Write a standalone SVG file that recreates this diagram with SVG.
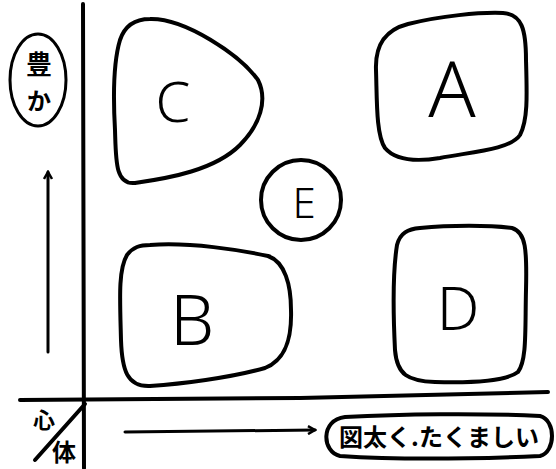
<svg xmlns="http://www.w3.org/2000/svg" width="556" height="469" viewBox="0 0 556 469">
<style>
.sh{fill:none;stroke:#000;stroke-width:4;stroke-linejoin:round;stroke-linecap:round}
.ln{fill:none;stroke:#000;stroke-width:4;stroke-linecap:round}
.lt{font-family:"Noto Sans","Liberation Sans",sans-serif;font-weight:300;fill:#000;text-anchor:middle}
.jp{font-family:"Noto Sans CJK JP",sans-serif;fill:#000;text-anchor:middle;font-weight:bold}
</style>
<defs>
<marker id="ah" markerWidth="10" markerHeight="10" refX="8" refY="5" orient="auto" markerUnits="userSpaceOnUse">
<path d="M1,1 L8,5 L1,9" fill="none" stroke="#000" stroke-width="2.5"/>
</marker>
</defs>
<rect width="556" height="469" fill="#fff"/>
<g id="axes">
<path class="ln" d="M83,4 L84,468"/>
<path class="ln" d="M20,400 L300,398 L548,392"/>
<path class="ln" d="M85,404 L35,460"/>
<path class="ln" d="M48,352 L48,172" style="stroke-width:3" marker-end="url(#ah)"/>
<path class="ln" d="M125,432 L315,430" style="stroke-width:3" marker-end="url(#ah)"/>
</g>
<g id="label-yutaka">
<ellipse class="sh" cx="38" cy="80" rx="28" ry="46" style="stroke-width:3"/>
<text class="jp" x="39" y="74" font-size="26">豊</text>
<text class="jp" x="39" y="110" font-size="24">か</text>
</g>
<g id="label-corner">
<text class="jp" x="44" y="428" font-size="22" font-weight="normal">心</text>
<text class="jp" x="64" y="461" font-size="24">体</text>
</g>
<g id="label-x">
<path class="sh" d="M345,417 C400,414 480,413 540,416 C556,420 556,452 540,456 C470,459 400,460 340,456 C322,452 320,420 345,417 Z"/>
<text class="jp" x="439" y="446" font-size="24">図太く.たくましい</text>
</g>
<g id="node-C">
<path class="sh" d="M150,19 C185,18 240,55 258,80 C268,100 260,125 240,145 C215,170 170,178 135,183 C115,185 116,160 115,130 C113,95 114,60 120,40 C125,25 135,19 150,19 Z"/>
<text class="lt" x="173" y="122" font-size="56">C</text>
</g>
<g id="node-A">
<path class="sh" d="M408,24 C440,16 480,12 503,13 C522,14 526,30 526,60 C527,95 528,120 520,135 C510,150 470,152 440,158 C415,162 395,160 385,148 C376,135 377,100 376,70 C375,45 385,30 408,24 Z"/>
<text class="lt" x="452" y="117" font-size="78">A</text>
</g>
<g id="node-E">
<ellipse class="sh" cx="301" cy="200" rx="40" ry="40"/>
<text class="lt" x="304" y="218" font-size="42">E</text>
</g>
<g id="node-B">
<path class="sh" d="M150,245 C190,242 240,250 268,256 C285,262 291,285 291,310 C292,340 285,360 265,368 C230,378 180,384 150,386 C127,387 122,370 121,340 C120,300 118,270 127,255 C133,247 140,245 150,245 Z"/>
<text class="lt" x="192" y="345" font-size="70">B</text>
</g>
<g id="node-D">
<path class="sh" d="M420,228 C450,225 490,225 512,228 C526,232 527,250 526,290 C525,330 527,360 518,372 C505,382 470,383 435,382 C408,381 397,375 395,350 C393,310 393,270 397,245 C400,233 408,229 420,228 Z"/>
<text class="lt" x="458" y="330" font-size="60">D</text>
</g>
</svg>
